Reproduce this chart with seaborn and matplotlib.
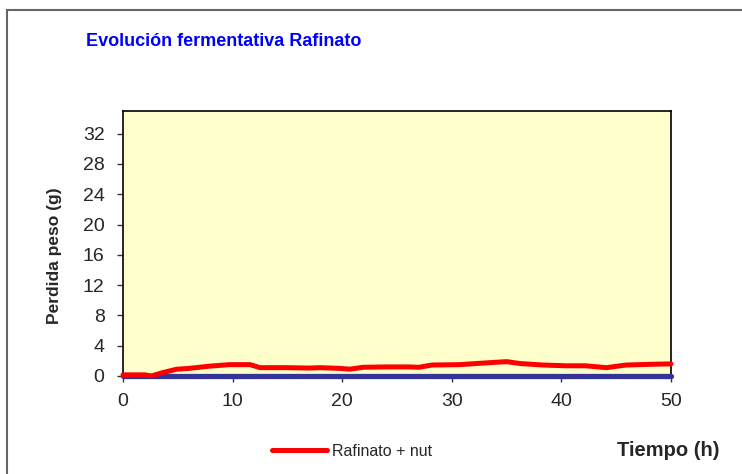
import numpy as np
import pandas as pd
import seaborn as sns
import matplotlib.pyplot as plt
from matplotlib.patches import Rectangle

# datos
tiempo = [0, 1, 2, 2.6, 3.5, 4.9, 6, 7.9, 9.7, 11.6, 12.5, 15, 17, 18, 19.8, 20.7,
          21.9, 24, 26.1, 27, 28.2, 30.7, 32.8, 35, 36.2, 38.3, 40.4, 42.2, 44.1,
          45.9, 48.3, 50]
perdida_nut = [0.15, 0.15, 0.15, 0.0, 0.4, 0.9, 1.0, 1.3, 1.5, 1.5, 1.1, 1.1, 1.05,
               1.1, 1.0, 0.9, 1.15, 1.2, 1.2, 1.15, 1.45, 1.5, 1.7, 1.9, 1.65, 1.45,
               1.35, 1.35, 1.1, 1.45, 1.55, 1.6]
tiempo_base = [0, 50]
perdida_base = [0, 0]
y_ticks = [0, 4, 8, 12, 16, 20, 24, 28, 32]
x_ticks = [0, 10, 20, 30, 40, 50]

df = pd.DataFrame({'tiempo': tiempo, 'perdida': perdida_nut})
base = pd.DataFrame({'tiempo': tiempo_base, 'perdida': perdida_base})

sns.set_style('white')
plt.rcParams['font.family'] = ['Liberation Sans', 'DejaVu Sans']

fig = plt.figure(figsize=(7.42, 4.74), dpi=100)
ax = fig.add_axes([123/742, 1-376/474, (671-123)/742, (376-111)/474])
ax.set_facecolor('#FFFFCC')

sns.lineplot(data=base, x='tiempo', y='perdida', ax=ax, color='#333399',
             linewidth=3.8, clip_on=False, zorder=3)
sns.lineplot(data=df, x='tiempo', y='perdida', ax=ax, color='#FF0000',
             linewidth=3.6, label='Rafinato + nut', clip_on=False, zorder=4)

ax.set_xlim(0, 50)
ax.set_ylim(0, 35)
ax.set_xticks(x_ticks)
ax.set_yticks(y_ticks)
ax.tick_params(axis='both', labelsize=14, direction='out', length=4.3, width=1,
               color='#333333', left=True, bottom=True)
ax.tick_params(axis='y', pad=9)
ax.tick_params(axis='x', pad=8)
for s in ax.spines.values():
    s.set_color('black')
    s.set_linewidth(1.2)

ax.set_xlabel('')
ax.set_ylabel('')
fig.text(54/742, 1-256/474, 'Perdida peso (g)', fontsize=12.5, fontweight='bold',
         rotation=90, ha='center', va='center')
fig.text(617/742, 1-450/474, 'Tiempo (h)', fontsize=14.5, fontweight='bold',
         ha='left', va='center')
fig.text(224/742, 1-42/474, 'Evolución fermentativa Rafinato', fontsize=13,
         fontweight='bold', color='#0000FF', ha='center', va='center')

leg = ax.legend(loc='center', bbox_to_anchor=(352/742, 1-451/474),
                bbox_transform=fig.transFigure, frameon=False, fontsize=11.5,
                handlelength=3.5, handletextpad=0.3)

# borde exterior del grafico
fig.patches.append(Rectangle((7/742, -0.1), 1.1, 1-10/474+0.1,
                             transform=fig.transFigure, fill=False,
                             edgecolor='#666666', linewidth=1.5))

fig.savefig('out.png', dpi=100)
